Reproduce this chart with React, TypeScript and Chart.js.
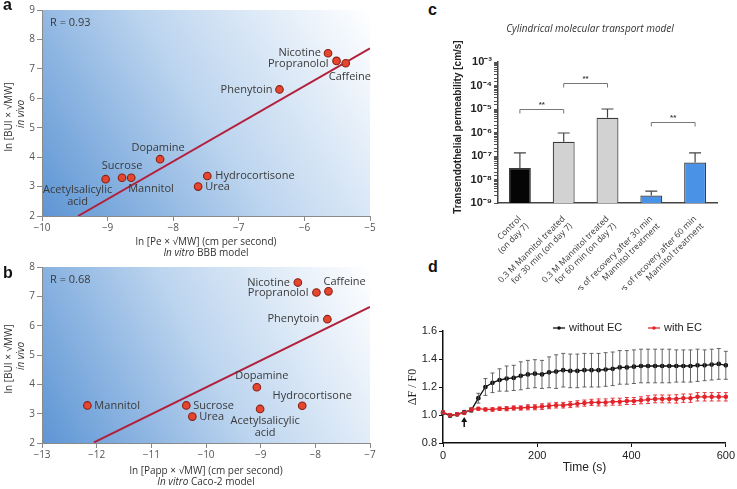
import React, { useEffect, useRef } from 'react';
import { Chart, registerables } from 'chart.js';

Chart.register(...registerables);

const SANS = '"Open Sans", "DejaVu Sans", sans-serif';
const ARIAL = '"Liberation Sans", Arial, sans-serif';
const SERIF = '"Liberation Serif", "Times New Roman", serif';

// ---------------- Panel a / b data ----------------
const drugNames = ['Nicotine', 'Propranolol', 'Caffeine', 'Phenytoin', 'Dopamine', 'Sucrose', 'Mannitol', 'Acetylsalicylic acid', 'Hydrocortisone', 'Urea'];
const bbbPe = [-5.64, -5.51, -5.37, -6.38, -8.2, -8.78, -8.64, -9.03, -7.48, -7.62];
const bbbBUI = [7.53, 7.27, 7.19, 6.3, 3.93, 3.3, 3.3, 3.25, 3.36, 3.0];
const bbbFitX = [-9.45, -5];
const bbbFitY = [2.0, 7.7];
const bbbR = 'R = 0.93';

const caco2Papp = [-8.32, -7.98, -7.76, -7.78, -9.07, -10.36, -12.17, -9.01, -8.24, -10.25];
const caco2BUI = [7.47, 7.13, 7.17, 6.22, 3.9, 3.28, 3.28, 3.16, 3.27, 2.9];
const caco2FitX = [-12.05, -7];
const caco2FitY = [2.02, 6.64];
const caco2R = 'R = 0.68';

// ---------------- Panel c data ----------------
const permCategories = [
  ['Control', '(on day 7)'],
  ['0.3 M Mannitol treated', 'for 30 min (on day 7)'],
  ['0.3 M Mannitol treated', 'for 60 min (on day 7)'],
  ['4 days of recovery after 30 min', 'Mannitol treatment'],
  ['4 days of recovery after 60 min', 'Mannitol treatment'],
];
const permMeans = [3.1e-8, 4.0e-7, 4.2e-6, 2.1e-9, 5.3e-8];
const permUpper = [1.35e-7, 9.5e-7, 1.0e-5, 3.2e-9, 1.35e-7];
const permSigPairs = [[0, 1], [1, 2], [3, 4]];
const permSigLevels = [1.0e-5, 1.3e-4, 2.9e-6];
const permSigText = '**';

// ---------------- Panel d data ----------------
const timeS = [0, 15, 30, 45, 60, 75, 90, 105, 120, 135, 150, 165, 180, 195, 210, 225, 240, 255, 270, 285, 300, 315, 330, 345, 360, 375, 390, 405, 420, 435, 450, 465, 480, 495, 510, 525, 540, 555, 570, 585, 600];
const withoutEC = [1.015, 0.995, 1.005, 1.02, 1.035, 1.12, 1.2, 1.23, 1.25, 1.26, 1.265, 1.28, 1.29, 1.295, 1.29, 1.305, 1.31, 1.32, 1.315, 1.315, 1.32, 1.32, 1.32, 1.325, 1.33, 1.34, 1.34, 1.345, 1.35, 1.35, 1.35, 1.35, 1.35, 1.35, 1.35, 1.35, 1.355, 1.355, 1.36, 1.365, 1.355];
const withoutECErr = [0.01, 0.01, 0.01, 0.01, 0.015, 0.035, 0.06, 0.07, 0.08, 0.09, 0.09, 0.1, 0.1, 0.1, 0.1, 0.11, 0.12, 0.12, 0.12, 0.12, 0.12, 0.12, 0.12, 0.12, 0.12, 0.12, 0.12, 0.12, 0.12, 0.12, 0.12, 0.12, 0.12, 0.115, 0.115, 0.115, 0.115, 0.11, 0.11, 0.11, 0.1];
const withEC = [1.02, 1.0, 1.005, 1.015, 1.04, 1.045, 1.04, 1.04, 1.045, 1.045, 1.05, 1.05, 1.055, 1.055, 1.06, 1.065, 1.07, 1.07, 1.075, 1.08, 1.085, 1.09, 1.09, 1.09, 1.095, 1.095, 1.1, 1.1, 1.105, 1.11, 1.115, 1.115, 1.115, 1.115, 1.12, 1.12, 1.13, 1.13, 1.13, 1.13, 1.13];
const withECErr = [0.01, 0.01, 0.01, 0.01, 0.01, 0.01, 0.01, 0.012, 0.012, 0.015, 0.015, 0.015, 0.018, 0.018, 0.02, 0.02, 0.02, 0.02, 0.022, 0.022, 0.022, 0.022, 0.025, 0.025, 0.025, 0.025, 0.025, 0.025, 0.025, 0.028, 0.028, 0.028, 0.028, 0.03, 0.03, 0.03, 0.03, 0.03, 0.03, 0.03, 0.03];
const arrowTime = 45;
const arrowFrom = 0.915;
const arrowTo = 0.985;

// ---------------- helpers ----------------
function drawMixed(ctx, parts, cx, cy, size, family, color) {
  ctx.save();
  ctx.fillStyle = color;
  ctx.textBaseline = 'middle';
  ctx.textAlign = 'left';
  const widths = parts.map((p) => {
    ctx.font = `${p.italic ? 'italic ' : ''}${size}px ${family}`;
    return ctx.measureText(p.t).width;
  });
  const total = widths.reduce((a, b) => a + b, 0);
  let x = cx - total / 2;
  parts.forEach((p, i) => {
    ctx.font = `${p.italic ? 'italic ' : ''}${size}px ${family}`;
    ctx.fillText(p.t, x, cy);
    x += widths[i];
  });
  ctx.restore();
}

function drawRotated(ctx, text, x, y, font, color) {
  ctx.save();
  ctx.translate(x, y);
  ctx.rotate(-Math.PI / 2);
  ctx.font = font;
  ctx.fillStyle = color;
  ctx.textAlign = 'center';
  ctx.textBaseline = 'middle';
  ctx.fillText(text, 0, 0);
  ctx.restore();
}

const minus = (v) => String(v).replace('-', '\u2212');

function scatterConfig(p) {
  const points = p.xs.map((x, i) => ({ x, y: p.ys[i] }));
  const fit = p.fitX.map((x, i) => ({ x, y: p.fitY[i] }));
  const decor = {
    id: 'scatterDecor',
    beforeDraw(chart) {
      const { ctx, chartArea } = chart;
      const { left, right, top, bottom } = chartArea;
      const g = ctx.createLinearGradient(left, bottom, right, top);
      g.addColorStop(0, '#5d95d4');
      g.addColorStop(0.5, '#bdd5ef');
      g.addColorStop(1, '#ffffff');
      ctx.save();
      ctx.fillStyle = g;
      ctx.fillRect(left, top, right - left, bottom - top);
      ctx.restore();
    },
    afterDatasetsDraw(chart) {
      const { ctx, chartArea } = chart;
      const meta = chart.getDatasetMeta(0);
      ctx.save();
      ctx.font = `11px ${SANS}`;
      ctx.fillStyle = '#3a3a3a';
      ctx.textBaseline = 'middle';
      meta.data.forEach((pt, i) => {
        const pl = p.places[i];
        const lines = pl.wrap ? drugNames[i].split(' ') : [drugNames[i]];
        ctx.textAlign = pl.align;
        lines.forEach((ln, k) => ctx.fillText(ln, pt.x + pl.dx, pt.y + pl.dy + k * 12));
      });
      ctx.textAlign = 'left';
      ctx.fillText(p.rText, chartArea.left + 8, chartArea.top + 13);
      ctx.restore();
    },
    afterDraw(chart) {
      const { ctx, chartArea } = chart;
      const cx = (chartArea.left + chartArea.right) / 2;
      drawMixed(ctx, [{ t: p.xTitle, italic: false }], cx, chartArea.bottom + p.t1, 10, SANS, '#333');
      drawMixed(ctx, [{ t: 'In vitro', italic: true }, { t: ' ' + p.xSub, italic: false }], cx, chartArea.bottom + p.t2, 10, SANS, '#333');
      const cy = (chartArea.top + chartArea.bottom) / 2 + 4;
      drawRotated(ctx, 'ln [BUI \u00d7 \u221aMW]', 9, cy, `10px ${SANS}`, '#333');
      drawRotated(ctx, 'in vivo', 21, cy - 3, `italic 10px ${SANS}`, '#333');
    },
  };
  const axisCommon = {
    type: 'linear',
    grid: { drawOnChartArea: false, drawTicks: true, tickLength: 5, color: '#8a8a8a' },
    border: { color: '#8a8a8a', width: 1 },
  };
  return {
    type: 'scatter',
    data: {
      datasets: [
        { type: 'scatter', data: points, pointRadius: 3.8, pointHoverRadius: 3.8, backgroundColor: '#e4462f', borderColor: '#8a2014', borderWidth: 1.1, order: 0, clip: false },
        { type: 'line', data: fit, borderColor: '#b3203c', borderWidth: 2, pointRadius: 0, showLine: true, fill: false, order: 1 },
      ],
    },
    options: {
      responsive: false,
      animation: false,
      layout: { padding: { top: p.padTop, right: 8, left: 0, bottom: 0 } },
      plugins: { legend: { display: false }, tooltip: { enabled: false } },
      scales: {
        x: {
          ...axisCommon,
          min: p.xMin,
          max: p.xMax,
          ticks: { stepSize: 1, color: '#555', font: { family: SANS, size: 10 }, padding: 1, callback: (v) => minus(v) },
          afterFit: (s) => { s.height = p.xh; },
        },
        y: {
          ...axisCommon,
          min: p.yMin,
          max: p.yMax,
          ticks: { stepSize: 1, color: '#555', font: { family: SANS, size: 10 }, padding: 2 },
          afterFit: (s) => { s.width = 42; },
        },
      },
    },
    plugins: [decor],
  };
}

const placesA = [
  { dx: -7, dy: 0, align: 'right' },
  { dx: -8, dy: 3, align: 'right' },
  { dx: -17, dy: 14, align: 'left' },
  { dx: -7, dy: 0, align: 'right' },
  { dx: -2, dy: -11, align: 'center' },
  { dx: 0, dy: -12, align: 'center' },
  { dx: -3, dy: 11, align: 'left' },
  { dx: -28, dy: 11, align: 'center', wrap: true },
  { dx: 8, dy: 0, align: 'left' },
  { dx: 7, dy: 0, align: 'left' },
];
const placesB = [
  { dx: -8, dy: 0, align: 'right' },
  { dx: -8, dy: 0, align: 'right' },
  { dx: -5, dy: -9, align: 'left' },
  { dx: -8, dy: 0, align: 'right' },
  { dx: 5, dy: -11, align: 'center' },
  { dx: 7, dy: 0, align: 'left' },
  { dx: 7, dy: 0, align: 'left' },
  { dx: 5, dy: 12, align: 'center', wrap: true },
  { dx: 10, dy: -10, align: 'center' },
  { dx: 7, dy: 0, align: 'left' },
];

const SUP = { '-': '\u207b', '0': '\u2070', '1': '\u00b9', '2': '\u00b2', '3': '\u00b3', '4': '\u2074', '5': '\u2075', '6': '\u2076', '7': '\u2077', '8': '\u2078', '9': '\u2079' };

function barConfig() {
  const decor = {
    id: 'barDecor',
    afterDatasetsDraw(chart) {
      const { ctx } = chart;
      const y = chart.scales.y;
      const x = chart.scales.x;
      const meta = chart.getDatasetMeta(0);
      ctx.save();
      ctx.strokeStyle = '#444';
      ctx.lineWidth = 1.2;
      meta.data.forEach((bar, i) => {
        const yE = y.getPixelForValue(permUpper[i]);
        ctx.beginPath();
        ctx.moveTo(bar.x, bar.y);
        ctx.lineTo(bar.x, yE);
        ctx.moveTo(bar.x - 6, yE);
        ctx.lineTo(bar.x + 6, yE);
        ctx.stroke();
      });
      ctx.strokeStyle = '#777';
      ctx.lineWidth = 1;
      ctx.fillStyle = '#444';
      ctx.font = `bold 8px ${ARIAL}`;
      ctx.textAlign = 'center';
      ctx.textBaseline = 'bottom';
      permSigPairs.forEach(([a, b], k) => {
        const x1 = x.getPixelForValue(a);
        const x2 = x.getPixelForValue(b);
        const yy = Math.round(y.getPixelForValue(permSigLevels[k])) + 0.5;
        ctx.beginPath();
        ctx.moveTo(x1, yy + 4);
        ctx.lineTo(x1, yy);
        ctx.lineTo(x2, yy);
        ctx.lineTo(x2, yy + 4);
        ctx.stroke();
        ctx.fillText(permSigText, (x1 + x2) / 2, yy - 1);
      });
      ctx.restore();
    },
    afterDraw(chart) {
      const { ctx } = chart;
      ctx.save();
      ctx.font = `italic 10px ${SANS}`;
      ctx.fillStyle = '#333';
      ctx.textAlign = 'center';
      ctx.textBaseline = 'middle';
      ctx.fillText('Cylindrical molecular transport model', 150, 29);
      ctx.restore();
      drawRotated(ctx, 'Transendothelial permeability [cm/s]', 18, 127, `bold 10px ${ARIAL}`, '#222');
    },
  };
  return {
    type: 'bar',
    data: {
      labels: permCategories,
      datasets: [{
        data: permMeans,
        backgroundColor: ['#050505', '#d2d2d2', '#d2d2d2', '#4a92e6', '#4a92e6'],
        borderColor: '#3a3a3a',
        borderWidth: 1.2,
        categoryPercentage: 1,
        barPercentage: 0.5,
      }],
    },
    options: {
      responsive: false,
      animation: false,
      layout: { padding: { top: 62, right: 20, left: 0, bottom: 0 } },
      plugins: { legend: { display: false }, tooltip: { enabled: false } },
      scales: {
        x: {
          grid: { display: false },
          border: { color: '#444', width: 1.5 },
          ticks: { minRotation: 45, maxRotation: 45, autoSkip: false, color: '#333', font: { family: SANS, size: 8.5 }, padding: 3 },
          afterFit: (s) => { s.height = 87; },
        },
        y: {
          type: 'logarithmic',
          min: 1e-9,
          max: 1e-3,
          grid: { drawOnChartArea: false, drawTicks: true, tickLength: 4, color: '#555' },
          border: { color: '#444', width: 1.5 },
          ticks: {
            autoSkip: false,
            color: '#222',
            font: { family: ARIAL, size: 11, weight: 'bold' },
            padding: 2,
            callback: (v) => {
              const e = Math.log10(Number(v));
              const r = Math.round(e);
              if (Math.abs(e - r) > 1e-6) return '';
              return '10' + String(r).split('').map((c) => SUP[c]).join('');
            },
          },
          afterFit: (s) => { s.width = 58; },
        },
      },
    },
    plugins: [decor],
  };
}

function lineConfig() {
  const decor = {
    id: 'lineDecor',
    afterDatasetsDraw(chart) {
      const { ctx } = chart;
      const xs = chart.scales.x;
      const ys = chart.scales.y;
      const sets = [
        { vals: withoutEC, errs: withoutECErr, color: '#555' },
        { vals: withEC, errs: withECErr, color: '#e3242b' },
      ];
      ctx.save();
      ctx.lineWidth = 0.9;
      sets.forEach((s) => {
        ctx.strokeStyle = s.color;
        ctx.beginPath();
        timeS.forEach((t, i) => {
          const px = xs.getPixelForValue(t);
          const y1 = ys.getPixelForValue(s.vals[i] + s.errs[i]);
          const y2 = ys.getPixelForValue(s.vals[i] - s.errs[i]);
          ctx.moveTo(px, y1); ctx.lineTo(px, y2);
          ctx.moveTo(px - 2, y1); ctx.lineTo(px + 2, y1);
          ctx.moveTo(px - 2, y2); ctx.lineTo(px + 2, y2);
        });
        ctx.stroke();
      });
      const ax = xs.getPixelForValue(arrowTime);
      const ay1 = ys.getPixelForValue(arrowFrom);
      const ay2 = ys.getPixelForValue(arrowTo);
      ctx.strokeStyle = '#111';
      ctx.fillStyle = '#111';
      ctx.lineWidth = 1.5;
      ctx.beginPath();
      ctx.moveTo(ax, ay1);
      ctx.lineTo(ax, ay2 + 3);
      ctx.stroke();
      ctx.beginPath();
      ctx.moveTo(ax, ay2);
      ctx.lineTo(ax - 3, ay2 + 5);
      ctx.lineTo(ax + 3, ay2 + 5);
      ctx.closePath();
      ctx.fill();
      ctx.restore();
    },
    afterDraw(chart) {
      const { ctx, chartArea } = chart;
      ctx.save();
      ctx.font = `12px ${ARIAL}`;
      ctx.fillStyle = '#222';
      ctx.textAlign = 'center';
      ctx.textBaseline = 'middle';
      ctx.fillText('Time (s)', (chartArea.left + chartArea.right) / 2, 178);
      const items = [
        { x: 181, color: '#111', text: 'without EC' },
        { x: 276, color: '#e3242b', text: 'with EC' },
      ];
      ctx.font = `11px ${ARIAL}`;
      ctx.textAlign = 'left';
      items.forEach((it) => {
        ctx.strokeStyle = it.color;
        ctx.fillStyle = it.color;
        ctx.lineWidth = 1.3;
        ctx.beginPath();
        ctx.moveTo(it.x, 38);
        ctx.lineTo(it.x + 12, 38);
        ctx.stroke();
        ctx.beginPath();
        ctx.arc(it.x + 6, 38, 1.8, 0, Math.PI * 2);
        ctx.fill();
        ctx.fillStyle = '#222';
        ctx.fillText(it.text, it.x + 16, 38);
      });
      ctx.restore();
      drawRotated(ctx, '\u0394F / F0', 41, 97, `12px ${SERIF}`, '#222');
    },
  };
  const axis = {
    type: 'linear',
    grid: { drawOnChartArea: false, drawTicks: true, tickLength: 4, color: '#111' },
    border: { color: '#111', width: 1.5 },
  };
  return {
    type: 'line',
    data: {
      datasets: [
        { label: 'without EC', data: timeS.map((t, i) => ({ x: t, y: withoutEC[i] })), borderColor: '#111', backgroundColor: '#111', borderWidth: 1.3, pointRadius: 1.7, order: 1, clip: false },
        { label: 'with EC', data: timeS.map((t, i) => ({ x: t, y: withEC[i] })), borderColor: '#e3242b', backgroundColor: '#e3242b', borderWidth: 1.3, pointRadius: 1.6, order: 0, clip: false },
      ],
    },
    options: {
      responsive: false,
      animation: false,
      layout: { padding: { top: 41, right: 10, left: 0, bottom: 0 } },
      plugins: { legend: { display: false }, tooltip: { enabled: false } },
      scales: {
        x: {
          ...axis,
          min: 0,
          max: 600,
          ticks: { stepSize: 200, color: '#222', font: { family: ARIAL, size: 11 }, padding: 2 },
          afterFit: (s) => { s.height = 46; },
        },
        y: {
          ...axis,
          min: 0.8,
          max: 1.6,
          ticks: { stepSize: 0.2, color: '#222', font: { family: ARIAL, size: 11 }, padding: 2, callback: (v) => Number(v).toFixed(1) },
          afterFit: (s) => { s.width = 71; },
        },
      },
    },
    plugins: [decor],
  };
}

function ChartCanvas({ left, top, width, height, build }) {
  const ref = useRef(null);
  useEffect(() => {
    const chart = new Chart(ref.current, build());
    return () => chart.destroy();
  }, []);
  return (
    <canvas
      ref={ref}
      width={width}
      height={height}
      style={{ position: 'absolute', left, top, width, height }}
    />
  );
}

const letterStyle = {
  position: 'absolute',
  fontFamily: ARIAL,
  fontWeight: 'bold',
  fontSize: 16,
  lineHeight: '16px',
  color: '#111',
};

export default function App() {
  return (
    <div style={{ position: 'fixed', left: 0, top: 0, width: 737, height: 489, background: '#fff', overflow: 'hidden' }}>
      <ChartCanvas
        left={0}
        top={0}
        width={378}
        height={256}
        build={() => scatterConfig({
          xs: bbbPe, ys: bbbBUI, fitX: bbbFitX, fitY: bbbFitY, rText: bbbR, places: placesA,
          xMin: -10, xMax: -5, yMin: 2, yMax: 9, padTop: 10, xh: 40, t1: 26, t2: 37,
          xTitle: 'ln [Pe \u00d7 \u221aMW] (cm per second)', xSub: 'BBB model',
        })}
      />
      <ChartCanvas
        left={0}
        top={256}
        width={378}
        height={233}
        build={() => scatterConfig({
          xs: caco2Papp, ys: caco2BUI, fitX: caco2FitX, fitY: caco2FitY, rText: caco2R, places: placesB,
          xMin: -13, xMax: -7, yMin: 2, yMax: 8, padTop: 11, xh: 46, t1: 28, t2: 39,
          xTitle: 'ln [Papp \u00d7 \u221aMW] (cm per second)', xSub: 'Caco-2 model',
        })}
      />
      <ChartCanvas left={440} top={0} width={297} height={290} build={barConfig} />
      <ChartCanvas left={372} top={290} width={365} height={199} build={lineConfig} />
      <div style={{ ...letterStyle, left: 3, top: -3 }}>a</div>
      <div style={{ ...letterStyle, left: 3, top: 265 }}>b</div>
      <div style={{ ...letterStyle, left: 428, top: 2 }}>c</div>
      <div style={{ ...letterStyle, left: 428, top: 259 }}>d</div>
    </div>
  );
}
